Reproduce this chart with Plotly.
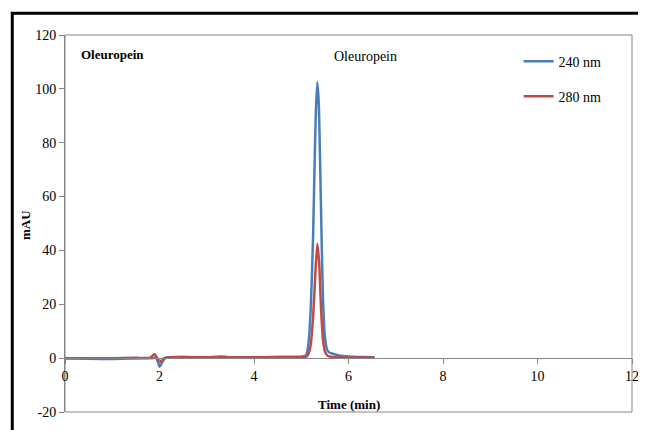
import plotly.graph_objects as go

# ---- data ----
t_240 = [0, 0.5, 1.0, 1.5, 1.85, 1.92, 1.97, 2.0, 2.04, 2.1, 2.2, 2.5, 3.0, 3.3, 3.5, 4.0, 4.5,
         5.0, 5.1, 5.15, 5.2, 5.25, 5.28, 5.31, 5.34, 5.37, 5.40, 5.43, 5.46, 5.5, 5.55, 5.6,
         5.7, 5.8, 6.0, 6.3, 6.55]
y_240 = [0.0, -0.2, -0.3, -0.1, 0.0, 0.2, -1.5, -3.2, -2.2, -0.3, 0.3, 0.4, 0.3, 0.5, 0.3, 0.3, 0.4,
         0.5, 1.0, 5.0, 18.0, 45.0, 70.0, 92.0, 102.5, 95.0, 72.0, 45.0, 22.0, 8.0, 3.0, 2.0,
         1.5, 1.0, 0.6, 0.4, 0.3]

t_280 = [0, 0.5, 1.0, 1.5, 1.8, 1.9, 1.95, 2.0, 2.05, 2.1, 2.2, 2.5, 3.0, 3.3, 3.5, 4.0, 4.5,
         5.0, 5.1, 5.15, 5.2, 5.25, 5.3, 5.34, 5.38, 5.42, 5.46, 5.5, 5.55, 5.6, 5.8, 6.0, 6.3, 6.55]
y_280 = [0.0, 0.0, 0.0, 0.1, 0.2, 1.5, 0.0, -1.5, -0.8, 0.0, 0.3, 0.4, 0.3, 0.5, 0.3, 0.3, 0.4,
         0.4, 0.5, 1.5, 5.0, 15.0, 32.0, 42.5, 35.0, 18.0, 7.0, 2.5, 1.0, 0.6, 0.3, 0.2, 0.2, 0.2]

x_ticks = [0, 2, 4, 6, 8, 10, 12]
y_ticks = [-20, 0, 20, 40, 60, 80, 100, 120]
y_tick_labels = ["-20", "0", "20", "40", "60", "80", "100", "120"]

FONT = "Liberation Serif"
BLUE = "#4a7ebb"
RED = "#be4b48"

fig = go.Figure()
fig.add_trace(go.Scatter(x=t_240, y=y_240, mode="lines", name="240 nm", legendgroup="a",
                         line=dict(color=BLUE, width=2.5, shape="spline", smoothing=0.6)))
fig.add_trace(go.Scatter(x=t_280, y=y_280, mode="lines", name="280 nm", legendgroup="b",
                         line=dict(color=RED, width=2.5, shape="spline", smoothing=0.6)))

# The page body adds an 8px offset, so the figure is sized 8px smaller on each axis.
fig.update_layout(
    width=638, height=422,
    margin=dict(l=57, r=14, t=27, b=18, autoexpand=False),
    paper_bgcolor="white", plot_bgcolor="white",
    font=dict(family=FONT, size=14, color="black"),
    showlegend=True,
    legend=dict(x=0.80, y=0.972, xanchor="left", yanchor="top",
                font=dict(family=FONT, size=14), tracegroupgap=14,
                traceorder="grouped", bgcolor="rgba(0,0,0,0)", itemwidth=30),
    xaxis=dict(range=[0, 12], tickvals=x_ticks, ticks="outside", ticklen=5,
               tickcolor="#868686", showline=True, linecolor="#868686", linewidth=1,
               showgrid=False, zeroline=False, anchor="free", position=20/140,
               automargin=False, tickfont=dict(family=FONT, size=14)),
    yaxis=dict(range=[-20, 120], tickvals=y_ticks, ticktext=y_tick_labels,
               ticks="outside", ticklen=5,
               tickcolor="#868686", showline=True, linecolor="#868686", linewidth=1,
               showgrid=False, zeroline=False, automargin=False,
               tickfont=dict(family=FONT, size=14)),
    shapes=[
        dict(type="rect", xref="paper", yref="paper", x0=0, x1=1, y0=0, y1=1,
             line=dict(color="#868686", width=1), layer="below"),
        dict(type="rect", xref="paper", yref="paper", x0=-0.093, x1=1.2, y0=-0.2, y1=1.058,
             line=dict(color="black", width=3)),
    ],
    annotations=[
        dict(text="<b>Oleuropein</b>", xref="paper", yref="paper", x=0.025, y=0.948,
             xanchor="left", yanchor="middle", showarrow=False,
             font=dict(family=FONT, size=13)),
        dict(text="Oleuropein", xref="x", yref="y", x=5.65, y=112,
             xanchor="left", yanchor="middle", showarrow=False,
             font=dict(family=FONT, size=14)),
        dict(text="<b>Time (min)</b>", xref="paper", yref="paper", x=0.5, y=0.02,
             xanchor="center", yanchor="middle", showarrow=False,
             font=dict(family=FONT, size=13)),
        dict(text="<b>mAU</b>", xref="paper", yref="paper", x=-0.0705, y=0.496,
             xanchor="center", yanchor="middle", showarrow=False, textangle=-90,
             font=dict(family=FONT, size=13)),
    ],
)

fig.write_html("out.html")
